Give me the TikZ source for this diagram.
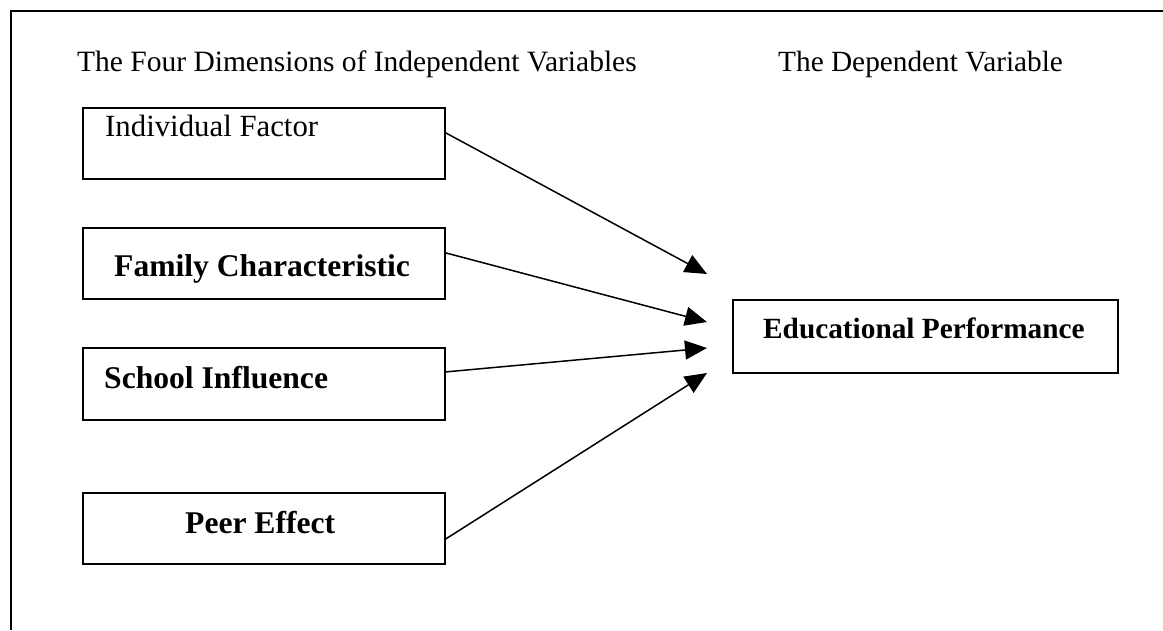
\documentclass[tikz,border=0pt]{standalone}
\usepackage{fontspec}
\setmainfont{Liberation Serif}
\usetikzlibrary{arrows.meta}
\begin{document}
\begin{tikzpicture}[x=1pt,y=-1pt,
  box/.style={draw,line width=1.8pt,inner sep=0pt,anchor=north west},
  lbl/.style={anchor=base west,inner sep=0pt},
  conn/.style={line width=1.5pt,-{Triangle[length=22pt,width=19pt]}}]
\useasboundingbox (0,0) rectangle (1163,630);
\draw[line width=1.8pt] (11,630) -- (11,11) -- (1163,11);
% headings
\node[lbl] (h1) at (77,71) {\fontsize{29.5}{34}\selectfont The Four Dimensions of Independent Variables};
\node[lbl] (h2) at (778,71) {\fontsize{29.3}{34}\selectfont The Dependent Variable};
% boxes
\node[box,minimum width=362pt,minimum height=71pt] (ind) at (82,107) {};
\node[box,minimum width=362pt,minimum height=71pt] (fam) at (82,227) {};
\node[box,minimum width=362pt,minimum height=72pt] (sch) at (82,347) {};
\node[box,minimum width=362pt,minimum height=71pt] (peer) at (82,492) {};
\node[box,minimum width=385pt,minimum height=73pt] (edu) at (732,299) {};
% labels
\node[lbl] (tind) at (105,136) {\fontsize{30.8}{36}\selectfont Individual Factor};
\node[lbl] (tfam) at (114,276) {\fontsize{31.6}{36}\selectfont\bfseries Family Characteristic};
\node[lbl] (tsch) at (104,388) {\fontsize{31.6}{36}\selectfont\bfseries School Influence};
\node[lbl] (tpeer) at (185,533) {\fontsize{31.6}{36}\selectfont\bfseries Peer Effect};
\node[lbl] (tedu) at (763,338) {\fontsize{29.3}{34}\selectfont\bfseries Educational Performance};
% arrow tips
\coordinate (t1) at (707,274);
\coordinate (t2) at (707,322);
\coordinate (t3) at (707,348);
\coordinate (t4) at (707,373);
\draw[conn] ([yshift=10.5pt]ind.east) -- (t1);
\draw[conn] ([yshift=10.5pt]fam.east) -- (t2);
\draw[conn] ([yshift=12pt]sch.east) -- (t3);
\draw[conn] ([yshift=-10.5pt]peer.east) -- (t4);
\end{tikzpicture}
\end{document}
